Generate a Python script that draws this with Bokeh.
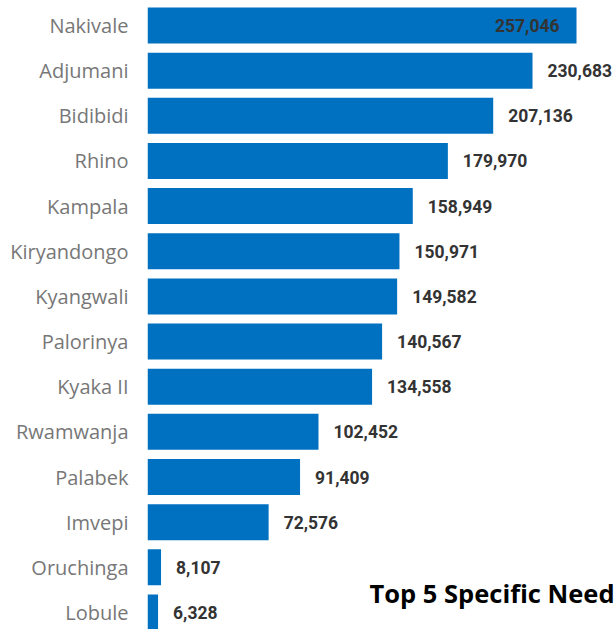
from bokeh.plotting import figure
from bokeh.models import ColumnDataSource, Range1d, FixedTicker, Label
from bokeh.embed import file_html
from bokeh.resources import INLINE
from bokeh.core.properties import value

categories = ["Nakivale", "Adjumani", "Bidibidi", "Rhino", "Kampala", "Kiryandongo",
              "Kyangwali", "Palorinya", "Kyaka II", "Rwamwanja", "Palabek", "Imvepi",
              "Oruchinga", "Lobule"]
counts = [257046, 230683, 207136, 179970, 158949, 150971, 149582, 140567, 134558,
          102452, 91409, 72576, 8107, 6328]
next_title = "Top 5 Specific Need"

W, H = 614, 629
LEFT = 147
FRAME_W = W - LEFT
PITCH = 45.15
TOP_OFF = 25.0
n = len(categories)
pos = list(range(n))

x_max = 257046 * FRAME_W / 429.0
y_top = -TOP_OFF / PITCH
y_bot = (H - TOP_OFF) / PITCH

p = figure(width=W, height=H, output_backend="svg", toolbar_location=None,
           x_range=Range1d(0, x_max), y_range=Range1d(y_bot, y_top),
           min_border_left=LEFT, min_border_right=0, min_border_top=0,
           min_border_bottom=0)
p.outline_line_color = None
p.grid.visible = False
p.xaxis.visible = False
p.background_fill_color = "white"
p.border_fill_color = "white"

src = ColumnDataSource(dict(y=pos, right=counts))
p.hbar(y="y", left=0, right="right", height=0.797, source=src,
       fill_color="#0070C0", line_color=None)

def px(v):
    return v / x_max * FRAME_W

labels = [f"{c:,}" for c in counts]
inside = [px(c) + 15 + 65 > FRAME_W for c in counts]
lsrc = ColumnDataSource(dict(
    x=counts, y=pos, text=labels,
    xoff=[-17 if i else 15 for i in inside],
    align=["right" if i else "left" for i in inside],
))
p.text(x="x", y="y", text="text", x_offset="xoff", text_align="align", source=lsrc,
       text_baseline="middle", text_font=value("Roboto"), text_font_style="bold",
       text_font_size="17.5px", text_color="#333333")

ax = p.yaxis[0]
ax.ticker = FixedTicker(ticks=pos)
ax.major_label_overrides = {i: c for i, c in enumerate(categories)}
ax.axis_line_color = None
ax.major_tick_line_color = None
ax.minor_tick_line_color = None
ax.major_tick_out = 0
ax.major_tick_in = 0
ax.major_label_standoff = 19
ax.major_label_text_font = "Open Sans"
ax.major_label_text_font_size = "20px"
ax.major_label_text_color = "#777777"

title = Label(x=(369 - LEFT) / FRAME_W * x_max, y=(592.5 - TOP_OFF) / PITCH,
              text=next_title, text_font="Open Sans", text_font_style="bold",
              text_font_size="25.5px", text_color="#000000", text_baseline="alphabetic")
p.add_layout(title)

open("out.html", "w").write(file_html(p, INLINE))
